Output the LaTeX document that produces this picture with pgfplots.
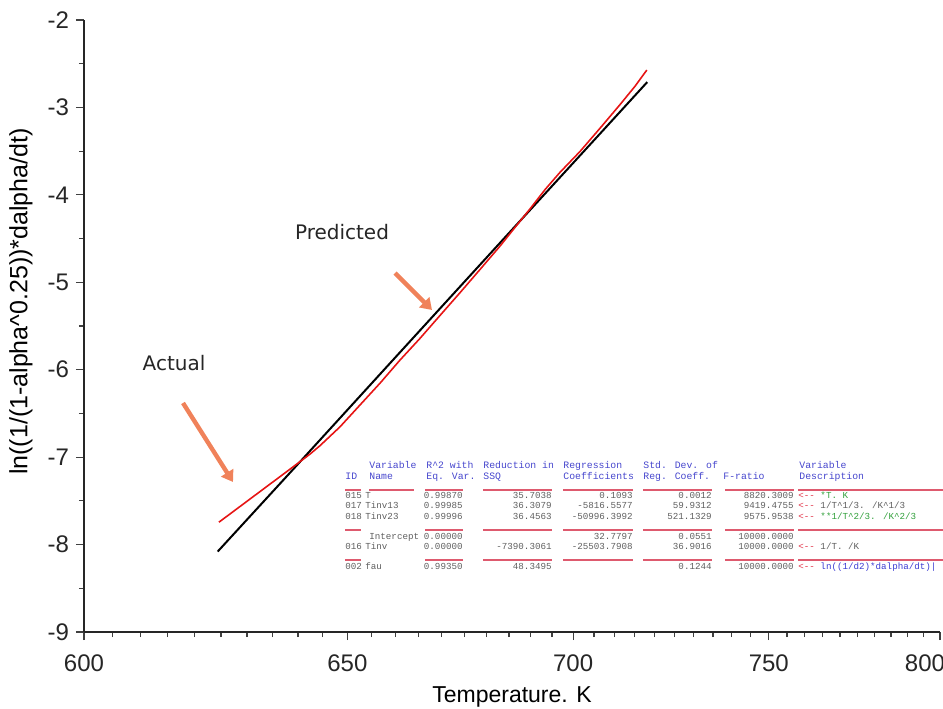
\documentclass[border=0pt]{standalone}
\usepackage{fontspec}
\setmainfont{Liberation Sans}
\newfontfamily\annfont{DejaVu Sans}
\newfontfamily\tabfont{Liberation Mono}
\usepackage{pgfplots}
\pgfplotsset{compat=1.18}
\usetikzlibrary{arrows.meta}
\definecolor{fitred}{RGB}{230,20,20}
\definecolor{arrorange}{RGB}{240,130,90}
\definecolor{hdrblue}{RGB}{70,70,205}
\definecolor{numgray}{RGB}{95,95,95}
\definecolor{rulered}{RGB}{222,90,110}
\definecolor{arrred}{RGB}{225,50,70}
\definecolor{descgreen}{RGB}{50,160,60}
\definecolor{descblue}{RGB}{60,60,210}

\tikzset{
  hdr/.style={font=\tabfont\fontsize{4.9}{5}\selectfont, text=hdrblue, inner sep=0pt, anchor=base west},
  num/.style={font=\tabfont\fontsize{4.6}{5}\selectfont, text=numgray, inner sep=0pt},
}
% table cells, positions in pixels of the reference
\newcommand{\tH}[3]{\node[hdr] at (#1,#2) {#3};}
\newcommand{\tL}[3]{\node[num,anchor=base west] at (#1,#2) {#3};}
\newcommand{\tR}[3]{\node[num,anchor=base east] at (#1,#2) {#3};}
\newcommand{\arr}{{\color{arrred}<-{}-}}

\begin{document}
\begin{tikzpicture}
\useasboundingbox (-42pt,-38pt) rectangle (429.5pt,316pt);
\begin{axis}[
  at={(0pt,0pt)}, anchor=south west,
  scale only axis, width=428pt, height=306pt,
  xmin=600, xmax=800, ymin=-9, ymax=-2,
  x coord trafo/.code={\pgfmathparse{-1000/#1}},
  x coord inv trafo/.code={\pgfmathparse{-1000/#1}},
  axis lines=left,
  axis line style={-, line width=0.9pt, black!85},
  tick align=outside,
  major tick length=4pt, minor tick length=2.5pt,
  every tick/.style={black!75, line width=0.6pt},
  xtick={600,650,700,750,800},
  xticklabels={600,650,700,750,800\hspace*{15pt}},
  minor xtick={605,610,615,620,625,630,635,640,645,655,660,665,670,675,680,685,690,695,
    705,710,715,720,725,730,735,740,745,755,760,765,770,775,780,785,790,795},
  ytick={-9,-8,-7,-6,-5,-4,-3,-2},
  yticklabels={-9,-8,-7,-6,-5,-4,-3,-2},
  minor ytick={-8.5,-7.5,-6.5,-5.5,-4.5,-3.5,-2.5},
  tick label style={font=\fontsize{12}{14}\selectfont, black!85},
  xticklabel style={yshift=-4pt},
  xlabel={Temperature. K},
  ylabel={ln((1/(1-alpha\textasciicircum 0.25))*dalpha/dt)},
  every axis x label/.style={at={(rel axis cs:0.5,0)}, yshift=-32.5pt, anchor=center, font=\fontsize{11.5}{14}\selectfont},
  every axis y label/.style={at={(rel axis cs:0,0.54)}, xshift=-31.5pt, rotate=90, anchor=center, font=\fontsize{12.5}{14}\selectfont},
]
% predicted (regression fit)
\addplot[black, line width=1pt] coordinates {
  (624.4,-8.080) (640.0,-7.079) (661.0,-5.802) (686.4,-4.362) (706.5,-3.298) (718.1,-2.710)
};
% actual
\addplot[fitred, line width=0.8pt] coordinates {
  (624.63,-7.744) (626.72,-7.650) (628.64,-7.564) (630.57,-7.478) (632.51,-7.394)
  (634.47,-7.308) (636.43,-7.222) (638.41,-7.136) (640.00,-7.069) (642.40,-6.966)
  (644.42,-6.869) (648.48,-6.652) (652.61,-6.403) (656.78,-6.152) (661.01,-5.891)
  (665.29,-5.641) (669.62,-5.380) (674.01,-5.118) (678.46,-4.856) (682.98,-4.584)
  (686.40,-4.373) (689.86,-4.162) (693.35,-3.941) (696.88,-3.743) (701.64,-3.503)
  (706.46,-3.241) (711.36,-2.969) (715.07,-2.759) (718.07,-2.572)
};
\end{axis}

\begin{scope}[x=0.5pt, y=-0.5pt, shift={(-42pt,316pt)}]
% annotations
\node[font=\annfont\fontsize{10}{12}\selectfont, text=black!85] at (342,232) {Predicted};
\node[font=\annfont\fontsize{10}{12}\selectfont, text=black!85] at (174,363) {Actual};
\draw[arrorange, line width=2.2pt, -{Triangle[length=5.5pt,width=7pt]}] (395,273) -- (432,310);
\draw[arrorange, line width=2.2pt, -{Triangle[length=5.5pt,width=7pt]}] (183,403) -- (233,482);

% regression table
\tH{369}{468}{Variable} \tH{426}{468}{R\textasciicircum 2 with} \tH{483}{468}{Reduction in}
\tH{563}{468}{Regression} \tH{643}{468}{Std. Dev. of} \tH{799}{468}{Variable}
\tH{345}{479}{ID} \tH{369}{479}{Name} \tH{426}{479}{Eq. Var.} \tH{483}{479}{SSQ}
\tH{563}{479}{Coefficients} \tH{643}{479}{Reg. Coeff.} \tH{723}{479}{F-ratio} \tH{799}{479}{Description}

\foreach \a/\b in {345/361,369/414,425/463,483/552,563/633,643/712,725/794,798/943}
  \draw[rulered, line width=0.7pt] (\a,490) -- (\b,490);

\tL{345}{498}{015} \tL{365}{498}{T} \tR{463}{498}{0.99870} \tR{552}{498}{35.7038}
\tR{633}{498}{0.1093} \tR{712}{498}{0.0012} \tR{794}{498}{8820.3009}
\tL{798}{498}{\arr\ {\color{descgreen}*T. K}}

\tL{345}{508.5}{017} \tL{365}{508.5}{Tinv13} \tR{463}{508.5}{0.99985} \tR{552}{508.5}{36.3079}
\tR{633}{508.5}{-5816.5577} \tR{712}{508.5}{59.9312} \tR{794}{508.5}{9419.4755}
\tL{798}{508.5}{\arr\ 1/T\textasciicircum 1/3. /K\textasciicircum 1/3}

\tL{345}{519}{018} \tL{365}{519}{Tinv23} \tR{463}{519}{0.99996} \tR{552}{519}{36.4563}
\tR{633}{519}{-50996.3992} \tR{712}{519}{521.1329} \tR{794}{519}{9575.9538}
\tL{798}{519}{\arr\ {\color{descgreen}**1/T\textasciicircum 2/3. /K\textasciicircum 2/3}}

\foreach \a/\b in {345/361,425/463,483/552,563/633,643/712,725/794,798/943}
  \draw[rulered, line width=0.7pt] (\a,530) -- (\b,530);

\tL{369}{539}{Intercept} \tR{463}{539}{0.00000}
\tR{633}{539}{32.7797} \tR{712}{539}{0.0551} \tR{794}{539}{10000.0000}

\tL{345}{549.5}{016} \tL{365}{549.5}{Tinv} \tR{463}{549.5}{0.00000} \tR{552}{549.5}{-7390.3061}
\tR{633}{549.5}{-25503.7908} \tR{712}{549.5}{36.9016} \tR{794}{549.5}{10000.0000}
\tL{798}{549.5}{\arr\ 1/T. /K}

\foreach \a/\b in {345/361,425/463,483/552,563/633,643/712,725/794,798/943}
  \draw[rulered, line width=0.7pt] (\a,560) -- (\b,560);

\tL{345}{569}{002} \tL{365}{569}{fau} \tR{463}{569}{0.99350} \tR{552}{569}{48.3495}
\tR{712}{569}{0.1244} \tR{794}{569}{10000.0000}
\tL{798}{569}{\arr\ {\color{descblue}ln((1/d2)*dalpha/dt)|}}
\end{scope}
\end{tikzpicture}
\end{document}
